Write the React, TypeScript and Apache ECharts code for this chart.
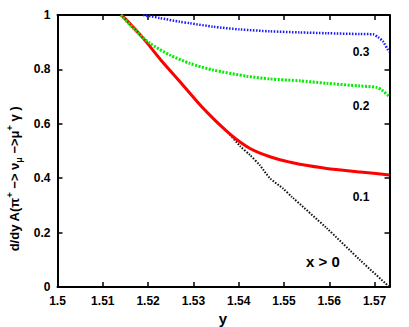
import React, { useEffect, useRef } from "react";
import * as echarts from "echarts";

// ---- data ----
const redX = [1.5140, 1.5145, 1.5189, 1.5230, 1.5272, 1.5315, 1.5337, 1.5359, 1.5381, 1.5403, 1.5425, 1.5447, 1.5469, 1.5491, 1.5513, 1.5535, 1.5594, 1.5668, 1.5733];
const redY = [1.0, 0.994, 0.915, 0.831, 0.752, 0.669, 0.631, 0.595, 0.562, 0.533, 0.509, 0.492, 0.479, 0.468, 0.459, 0.451, 0.436, 0.423, 0.412];

const greenX = [1.5140, 1.5171, 1.5204, 1.5248, 1.5292, 1.5343, 1.5418, 1.5469, 1.5535, 1.5594, 1.5668, 1.5705, 1.5716, 1.5733];
const greenY = [1.0, 0.945, 0.896, 0.853, 0.822, 0.798, 0.775, 0.765, 0.758, 0.749, 0.739, 0.734, 0.724, 0.700];

const blueX = [1.5189, 1.5226, 1.5270, 1.5292, 1.5343, 1.5403, 1.5469, 1.5535, 1.5594, 1.5668, 1.5697, 1.5708, 1.5719, 1.5730, 1.5733];
const blueY = [1.0, 0.989, 0.975, 0.970, 0.957, 0.947, 0.940, 0.936, 0.933, 0.930, 0.929, 0.918, 0.902, 0.871, 0.865];

const blackX = [1.5140, 1.5189, 1.5230, 1.5272, 1.5315, 1.5343, 1.5374, 1.5403, 1.5425, 1.5447, 1.5469, 1.5498, 1.5517, 1.5594, 1.5668, 1.5733];
const blackY = [1.0, 0.915, 0.831, 0.752, 0.669, 0.620, 0.572, 0.518, 0.485, 0.447, 0.400, 0.362, 0.332, 0.217, 0.099, 0.0];

const curveLabels = ["0.3", "0.2", "0.1", "x > 0"];
const xTitle = "y";

const X_MIN = 1.5;
const X_MAX = 1.5733;
const X_STEP = 0.01;
const Y_MIN = 0;
const Y_MAX = 1;
const Y_STEP = 0.2;

const zip = (xs: number[], ys: number[]) => xs.map((x, i) => [x, ys[i]]);

const FONT = "'Liberation Sans', Arial, Helvetica, sans-serif";

export default function App() {
  const ref = useRef<HTMLDivElement>(null);

  useEffect(() => {
    if (!ref.current) return;
    const chart = echarts.init(ref.current, undefined, { renderer: "svg" });

    const mkLine = () => ({ show: true, onZero: false, lineStyle: { color: "#000", width: 2 } });
    const mkTick = () => ({ show: true, inside: true, length: 5, lineStyle: { color: "#000", width: 1.5 } });
    const mkLabel = () => ({ color: "#000", fontWeight: "bold" as const, fontSize: 12, fontFamily: FONT });

    const lineSeries = (name: string, data: number[][], color: string, width: number, type: any, z: number) => ({
      name,
      type: "line",
      data,
      showSymbol: false,
      smooth: 0.25,
      z,
      lineStyle: { color, width, type, cap: "butt" },
      emphasis: { disabled: true },
    });

    chart.setOption({
      animation: false,
      grid: { left: 57.5, right: 19.5, top: 15, bottom: 40, containLabel: false },
      xAxis: [
        {
          type: "value",
          min: X_MIN,
          max: X_MAX,
          interval: X_STEP,
          position: "bottom",
          axisLine: mkLine(),
          axisTick: mkTick(),
          splitLine: { show: false },
          axisLabel: {
            ...mkLabel(),
            margin: 8,
            showMaxLabel: false,
            formatter: (v: number) => String(+v.toFixed(2)),
          },
        },
        {
          type: "value",
          min: X_MIN,
          max: X_MAX,
          interval: X_STEP,
          position: "top",
          axisLine: mkLine(),
          axisTick: mkTick(),
          splitLine: { show: false },
          axisLabel: { show: false },
        },
      ],
      yAxis: [
        {
          type: "value",
          min: Y_MIN,
          max: Y_MAX,
          interval: Y_STEP,
          position: "left",
          axisLine: mkLine(),
          axisTick: mkTick(),
          splitLine: { show: false },
          axisLabel: {
            ...mkLabel(),
            margin: 7,
            formatter: (v: number) => String(+v.toFixed(1)),
          },
        },
        {
          type: "value",
          min: Y_MIN,
          max: Y_MAX,
          interval: Y_STEP,
          position: "right",
          axisLine: mkLine(),
          axisTick: mkTick(),
          splitLine: { show: false },
          axisLabel: { show: false },
        },
      ],
      series: [
        lineSeries("x > 0", zip(blackX, blackY), "#111", 2, [1.5, 1.5], 2),
        lineSeries("0.1", zip(redX, redY), "#ff0000", 3, "solid", 3),
        lineSeries("0.2", zip(greenX, greenY), "#00ee00", 3, [2, 1.5], 4),
        lineSeries("0.3", zip(blueX, blueY), "#1a1aff", 2.5, [1.5, 1.5], 5),
      ],
      graphic: [
        { type: "text", x: 361, y: 52, style: { text: curveLabels[0], font: `bold 12px ${FONT}`, fill: "#000", align: "center", verticalAlign: "middle" } },
        { type: "text", x: 361, y: 106, style: { text: curveLabels[1], font: `bold 12px ${FONT}`, fill: "#000", align: "center", verticalAlign: "middle" } },
        { type: "text", x: 361, y: 197, style: { text: curveLabels[2], font: `bold 12px ${FONT}`, fill: "#000", align: "center", verticalAlign: "middle" } },
        { type: "text", x: 323, y: 261, style: { text: curveLabels[3], font: `bold 15px ${FONT}`, fill: "#000", align: "center", verticalAlign: "middle" } },
        { type: "text", x: 223, y: 318, style: { text: xTitle, font: `bold 15px ${FONT}`, fill: "#000", align: "center", verticalAlign: "middle" } },
        {
          type: "text",
          x: 14,
          y: 179,
          rotation: Math.PI / 2,
          style: {
            text: "{b|d/dy A(π}{sup|+}{b| −> ν}{sub|μ}{b| −>μ}{sup|+}{b| γ )}",
            align: "center",
            verticalAlign: "middle",
            fill: "#000",
            rich: {
              b: { fontFamily: FONT, fontWeight: "bold", fontSize: 13, lineHeight: 18, fill: "#000" },
              sup: { fontFamily: FONT, fontWeight: "bold", fontSize: 9, lineHeight: 10, verticalAlign: "top", fill: "#000" },
              sub: { fontFamily: FONT, fontWeight: "bold", fontSize: 9, lineHeight: 10, verticalAlign: "bottom", fill: "#000" },
            },
          },
        },
      ],
    });

    return () => chart.dispose();
  }, []);

  return (
    <div
      ref={ref}
      style={{ position: "fixed", left: 0, top: 0, width: 409, height: 327, background: "#fff" }}
    />
  );
}
